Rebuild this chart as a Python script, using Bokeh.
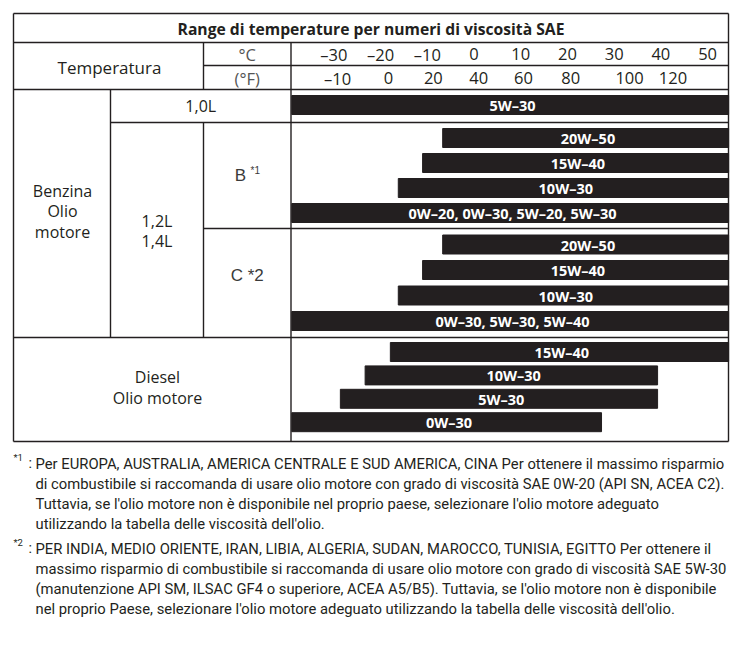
from bokeh.plotting import figure
from bokeh.models import Range1d
from bokeh.core.properties import value
from bokeh.embed import file_html
from bokeh.resources import INLINE

# ---------------- data ----------------
title_text = "Range di temperature per numeri di viscosità SAE"
celsius_ticks = [-30, -20, -10, 0, 10, 20, 30, 40, 50]
fahrenheit_ticks = [-10, 0, 20, 40, 60, 80, 100, 120]
# °C value under which each °F label is printed in the chart (schematic scale)
fahrenheit_at_celsius = [-29.2, -18.3, -8.7, 1.0, 10.6, 20.7, 33.3, 42.6]

grades_10 = ["5W–30"]
low_10 = [-39]
high_10 = [54.5]

grades_b = ["20W–50", "15W–40", "10W–30", "0W–20, 0W–30, 5W–20, 5W–30"]
low_b = [-6.7, -11.0, -16.2, -39]
high_b = [54.5, 54.5, 54.5, 54.5]

grades_c = ["20W–50", "15W–40", "10W–30", "0W–30, 5W–30, 5W–40"]
low_c = [-6.7, -11.0, -16.2, -39]
high_c = [54.5, 54.5, 54.5, 54.5]

grades_d = ["15W–40", "10W–30", "5W–30", "0W–30"]
low_d = [-17.9, -23.3, -28.6, -39]
high_d = [54.5, 39.3, 39.3, 27.3]

note1 = [
    "Per EUROPA, AUSTRALIA, AMERICA CENTRALE E SUD AMERICA, CINA Per ottenere il massimo risparmio",
    "di combustibile si raccomanda di usare olio motore con grado di viscosità SAE 0W-20 (API SN, ACEA C2).",
    "Tuttavia, se l'olio motore non è disponibile nel proprio paese, selezionare l'olio motore adeguato",
    "utilizzando la tabella delle viscosità dell'olio.",
]
note2 = [
    "PER INDIA, MEDIO ORIENTE, IRAN, LIBIA, ALGERIA, SUDAN, MAROCCO, TUNISIA, EGITTO Per ottenere il",
    "massimo risparmio di combustibile si raccomanda di usare olio motore con grado di viscosità SAE 5W-30",
    "(manutenzione API SM, ILSAC GF4 o superiore, ACEA A5/B5). Tuttavia, se l'olio motore non è disponibile",
    "nel proprio Paese, selezionare l'olio motore adeguato utilizzando la tabella delle viscosità dell'olio.",
]

# ---------------- layout ----------------
W, H = 740, 630
ORG = 0  # page offset of the canvas
INK = "#231f20"
GRAY = "#555555"
FONT = value("Open Sans")
NFONT = value("Roboto")

L, R, T, B = 13, 728, 13, 441
COL1, COL2, COL3 = 110, 203, 290.5
Y_TITLE, Y_C, Y_HEAD, Y_10, Y_B, Y_CC = 42, 65, 89, 122, 228, 337

PX_PER_C = 4.672
X_AT_10C = 520.2
t0 = 10 + (ORG - X_AT_10C) / PX_PER_C
t1 = 10 + (ORG + W - X_AT_10C) / PX_PER_C

p = figure(width=W, height=H, output_backend="svg", toolbar_location=None,
           x_range=Range1d(ORG, ORG + W), y_range=Range1d(ORG + H, ORG),
           x_axis_location=None, y_axis_location=None, min_border=0,
           outline_line_color=None, background_fill_color="white",
           border_fill_color="white")
p.grid.visible = False
p.extra_x_ranges = {"temp": Range1d(t0, t1)}

# ---------------- bars ----------------
BAR_H = 19


def centers(top, first, pitch, n):
    return [top + first + pitch * i for i in range(n)]


groups = [
    (grades_10, low_10, high_10, centers(Y_HEAD, 15.5, 25, 1)),
    (grades_b, low_b, high_b, centers(Y_10, 15.5, 25, 4)),
    (grades_c, low_c, high_c, centers(Y_B, 16, 25.5, 4)),
    (grades_d, low_d, high_d, centers(Y_CC, 14.5, 23.4, 4)),
]
for g, lo, hi, ys in groups:
    p.hbar(y=ys, left=lo, right=hi, height=BAR_H, color=INK, x_range_name="temp")
    p.text(x=[(a + b) / 2 + 0.5 for a, b in zip(lo, hi)], y=[y + 0.5 for y in ys], text=g,
           x_range_name="temp", text_align="center", text_baseline="middle",
           text_font=FONT, text_font_size="14.5px", text_font_style="bold",
           text_color="white")

# ---------------- table lines ----------------
hx0 = [L, L, COL2, L, COL1, COL2, L]
hx1 = [R, R, R, R, R, R, R]
hy = [T, Y_TITLE, Y_C, Y_HEAD, Y_10, Y_B, Y_CC]
p.segment(x0=hx0, y0=hy, x1=hx1, y1=hy, line_color=INK, line_width=1.4)
p.segment(x0=[L], y0=[B], x1=[R], y1=[B], line_color=INK, line_width=1.6)
vx = [L, R, COL2, COL3, COL1, COL2, COL3]
vy0 = [T, T, Y_TITLE, Y_TITLE, Y_HEAD, Y_10, Y_HEAD]
vy1 = [B, B, Y_HEAD, Y_HEAD, Y_CC, Y_CC, B]
p.segment(x0=vx, y0=vy0, x1=vx, y1=vy1, line_color=INK, line_width=1.4)

# ---------------- header texts ----------------
p.text(x=[(L + R) / 2], y=[28], text=[title_text], text_align="center",
       text_baseline="middle", text_font=FONT, text_font_size="15.7px",
       text_font_style="bold", text_color=INK)
p.text(x=[(L + COL2) / 2 + 1], y=[(Y_TITLE + Y_HEAD) / 2 + 1], text=["Temperatura"],
       text_align="center", text_baseline="middle", text_font=FONT,
       text_font_size="17px", text_color=INK)
p.text(x=[(COL2 + COL3) / 2, (COL2 + COL3) / 2], y=[53.5, 77.5], text=["°C", "(°F)"],
       text_align="center", text_baseline="middle", text_font=FONT,
       text_font_size="16.5px", text_color=GRAY)
p.text(x=celsius_ticks, y=[53.5] * len(celsius_ticks),
       text=[("–" + str(-v)) if v < 0 else str(v) for v in celsius_ticks],
       x_range_name="temp", text_align="center", text_baseline="middle",
       text_font=FONT, text_font_size="16.5px", text_color=INK)
p.text(x=fahrenheit_at_celsius, y=[77.5] * len(fahrenheit_ticks),
       text=[("–" + str(-v)) if v < 0 else str(v) for v in fahrenheit_ticks],
       x_range_name="temp", text_align="center", text_baseline="middle",
       text_font=FONT, text_font_size="16.5px", text_color=INK)

# ---------------- row labels ----------------
p.text(x=[(COL1 + COL3) / 2], y=[(Y_HEAD + Y_10) / 2], text=["1,0L"],
       text_align="center", text_baseline="middle", text_font=FONT,
       text_font_size="16px", text_color=INK)
p.text(x=[62, 62, 62], y=[190, 210.5, 231], text=["Benzina", "Olio", "motore"],
       text_align="center", text_baseline="middle", text_font=FONT,
       text_font_size="16px", text_color=INK)
p.text(x=[(COL1 + COL2) / 2] * 2, y=[220, 240], text=["1,2L", "1,4L"],
       text_align="center", text_baseline="middle", text_font=FONT,
       text_font_size="16px", text_color=INK)
p.text(x=[157, 157], y=[376, 397], text=["Diesel", "Olio motore"],
       text_align="center", text_baseline="middle", text_font=FONT,
       text_font_size="16px", text_color=INK)
p.text(x=[240], y=[(Y_10 + Y_B) / 2], text=["B"], text_align="center",
       text_baseline="middle", text_font=value("Liberation Sans"),
       text_font_size="17px", text_color="#3a3a3a")
p.text(x=[250], y=[170], text=["*1"], text_align="left",
       text_baseline="middle", text_font=value("Liberation Sans"),
       text_font_size="10px", text_color="#3a3a3a")
p.text(x=[(COL2 + COL3) / 2], y=[275], text=["C *2"], text_align="center",
       text_baseline="middle", text_font=value("Liberation Sans"),
       text_font_size="17px", text_color="#3a3a3a")

# ---------------- footnotes ----------------
NX = 35
p.text(x=[13, 13], y=[457, 542], text=["*1", "*2"], text_align="left",
       text_baseline="middle", text_font=NFONT, text_font_size="9.5px",
       text_color=INK)
p.text(x=[28, 28], y=[463, 548], text=[":", ":"], text_align="left",
       text_baseline="middle", text_font=NFONT, text_font_size="14.5px",
       text_color=INK)
p.text(x=[NX] * 4, y=[463 + 20 * i for i in range(4)], text=note1,
       text_align="left", text_baseline="middle", text_font=NFONT,
       text_font_size="14.8px", text_color=INK)
p.text(x=[NX] * 4, y=[548 + 20.3 * i for i in range(4)], text=note2,
       text_align="left", text_baseline="middle", text_font=NFONT,
       text_font_size="14.8px", text_color=INK)

open("out.html", "w").write(file_html(p, INLINE))
